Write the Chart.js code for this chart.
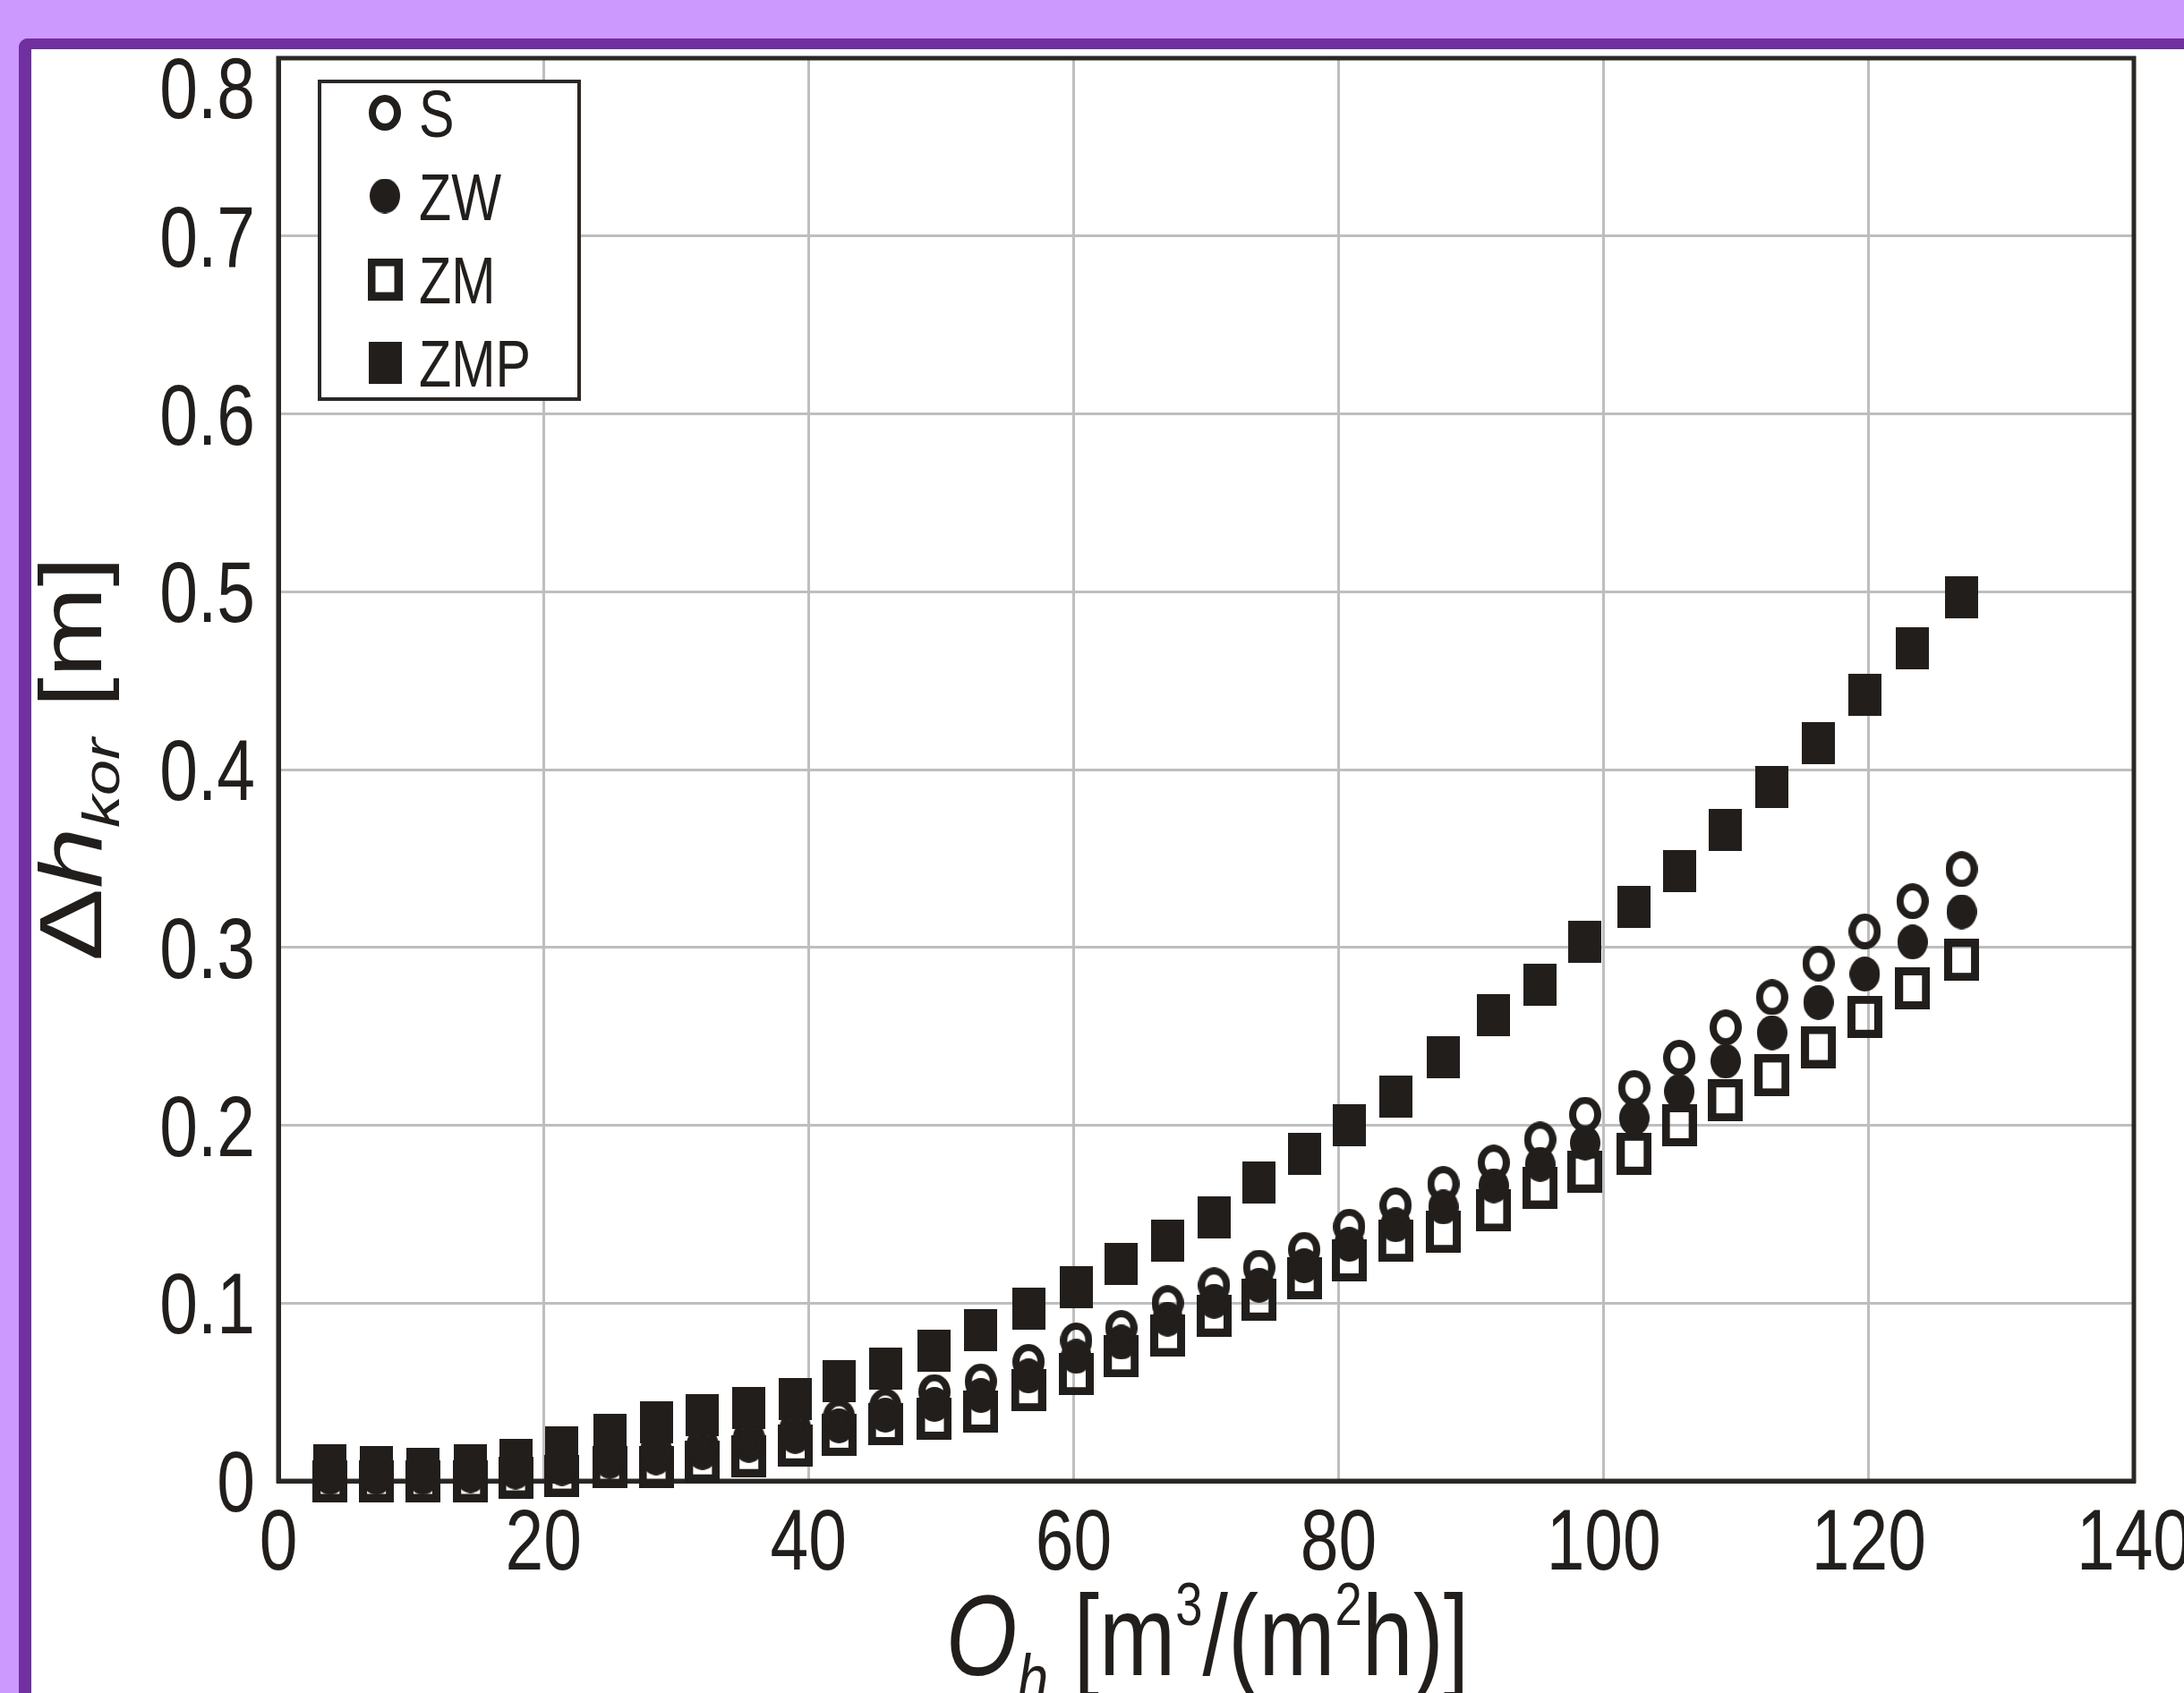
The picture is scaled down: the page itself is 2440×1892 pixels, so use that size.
<!DOCTYPE html>
<html>
<head>
<meta charset="utf-8">
<title>Δh_kor vs O_h</title>
<script src="https://cdn.jsdelivr.net/npm/chart.js@4.4.1/dist/chart.umd.min.js"></script>
<style>
  html, body { margin: 0; padding: 0; }
  body { width: 2440px; height: 1892px; background: #cc99ff; position: relative; overflow: hidden; }
  #frame { position: absolute; left: 21px; top: 43px; right: 0; bottom: 0; background: #fff;
           border-left: 14px solid #7030a0; border-top: 12px solid #7030a0; border-top-left-radius: 10px; }
  #c { position: absolute; left: 0; top: 0; }
</style>
</head>
<body>
<div id="frame"></div>
<canvas id="c" width="2440" height="1892"></canvas>
<script>
// hydraulic load O_h [m3/(m2h)]
const flow_rate = [3.9, 7.4, 10.9, 14.5, 17.9, 21.4, 25.0, 28.5, 32.0, 35.5, 39.0, 42.3,
  45.8, 49.5, 53.0, 56.6, 60.2, 63.6, 67.1, 70.6, 74.0, 77.4, 80.8, 84.3,
  87.9, 91.7, 95.2, 98.6, 102.3, 105.7, 109.2, 112.7, 116.2, 119.7, 123.3, 127.0];

// head loss dh_kor [m]
const loss_s = [0.003, 0.003, 0.004, 0.005, 0.007, 0.010, 0.014, 0.017, 0.020, 0.024, 0.029, 0.036,
  0.042, 0.050, 0.056, 0.067, 0.079, 0.086, 0.100, 0.110, 0.120, 0.130, 0.143, 0.155,
  0.167, 0.179, 0.192, 0.206, 0.221, 0.238, 0.255, 0.272, 0.291, 0.309, 0.326, 0.344];
const loss_zw = [0.002, 0.002, 0.002, 0.003, 0.005, 0.007, 0.011, 0.013, 0.016, 0.020, 0.025, 0.031,
  0.037, 0.043, 0.048, 0.059, 0.070, 0.078, 0.091, 0.101, 0.110, 0.121, 0.133, 0.144,
  0.154, 0.166, 0.178, 0.190, 0.204, 0.219, 0.236, 0.252, 0.269, 0.285, 0.303, 0.320];
const loss_zm = [0.000, 0.000, 0.000, 0.000, 0.002, 0.003, 0.008, 0.008, 0.011, 0.014, 0.020, 0.026,
  0.032, 0.035, 0.039, 0.051, 0.060, 0.070, 0.082, 0.093, 0.102, 0.114, 0.124, 0.135,
  0.140, 0.152, 0.165, 0.174, 0.184, 0.200, 0.214, 0.228, 0.244, 0.261, 0.277, 0.293];
const loss_zmp = [0.009, 0.008, 0.007, 0.009, 0.012, 0.019, 0.026, 0.033, 0.037, 0.041, 0.046, 0.056,
  0.063, 0.073, 0.085, 0.097, 0.109, 0.122, 0.135, 0.148, 0.168, 0.184, 0.200, 0.216,
  0.238, 0.262, 0.279, 0.303, 0.323, 0.343, 0.366, 0.390, 0.415, 0.442, 0.468, 0.497];

const series_names = ['S', 'ZW', 'ZM', 'ZMP'];
const x_ticks = [0, 20, 40, 60, 80, 100, 120, 140];
const y_ticks = [0, 0.1, 0.2, 0.3, 0.4, 0.5, 0.6, 0.7, 0.8];

const ink = '#221e1c';
const sans = '"Liberation Sans", Arial, sans-serif';
// the original lettering is Arial Narrow; no narrow face here, so squeeze Liberation Sans
const narrow_x = 0.8;

// scanned markers are a bit taller than wide, so draw them on small canvases
function make_mark(kind) {
    var c = document.createElement('canvas');
    var g;
    if (kind === 'open_circle') {
        c.width = 36; c.height = 40;
        g = c.getContext('2d');
        g.strokeStyle = ink; g.lineWidth = 8;
        g.beginPath(); g.ellipse(18, 20, 14, 16, 0, 0, Math.PI * 2); g.stroke();
    } else if (kind === 'circle') {
        c.width = 34; c.height = 39;
        g = c.getContext('2d');
        g.fillStyle = ink;
        g.beginPath(); g.ellipse(17, 19.5, 17, 19.5, 0, 0, Math.PI * 2); g.fill();
    } else if (kind === 'open_square') {
        c.width = 39; c.height = 47;
        g = c.getContext('2d');
        g.strokeStyle = ink; g.lineWidth = 9;
        g.strokeRect(4.5, 4.5, 30, 38);
    } else {
        c.width = 37; c.height = 47;
        g = c.getContext('2d');
        g.fillStyle = ink;
        g.fillRect(0, 0, 37, 47);
    }
    return c;
}

function to_points(ys) {
    return flow_rate.map(function (x, i) { return {x: x, y: ys[i]}; });
}

function squeeze_text(ctx, text, x, y, align, font) {
    ctx.save();
    ctx.translate(x, y);
    ctx.scale(narrow_x, 1);
    ctx.font = font;
    ctx.textAlign = align;
    ctx.textBaseline = 'alphabetic';
    ctx.fillText(text, 0, 0);
    ctx.restore();
}

// text made of pieces with sub/superscripts, centred on 0 in the current transform
function draw_parts(ctx, parts) {
    var total = 0;
    parts.forEach(function (p) { ctx.font = p.font; total += ctx.measureText(p.t).width; });
    var x = -total / 2;
    ctx.textAlign = 'left';
    ctx.textBaseline = 'alphabetic';
    parts.forEach(function (p) {
        ctx.font = p.font;
        ctx.fillText(p.t, x, p.dy || 0);
        x += ctx.measureText(p.t).width;
    });
}

function fmt_y(v) {
    return v === 0 ? '0' : v.toFixed(1);
}

const extras = {
    id: 'extras',
    beforeDatasetsDraw: function (chart) {
        var a = chart.chartArea, ctx = chart.ctx;
        ctx.save();
        ctx.strokeStyle = '#2b2725';
        ctx.lineWidth = 5;
        ctx.strokeRect(a.left, a.top, a.right - a.left, a.bottom - a.top);
        ctx.restore();
    },
    afterDraw: function (chart) {
        var ctx = chart.ctx;
        var xs = chart.scales.x, ys = chart.scales.y;
        ctx.save();
        ctx.fillStyle = ink;

        // tick labels
        xs.ticks.forEach(function (t) {
            squeeze_text(ctx, String(t.value), xs.getPixelForValue(t.value), ys.bottom + 99, 'center', '96px ' + sans);
        });
        ys.ticks.forEach(function (t) {
            var py = ys.getPixelForValue(t.value) + 34;
            // top label sits under the frame in the original
            if (Math.abs(t.value - 0.8) < 1e-9) py = ys.top + 67;
            squeeze_text(ctx, fmt_y(t.value), xs.left - 26, py, 'right', '96px ' + sans);
        });

        // legend box
        ctx.fillStyle = '#fff';
        ctx.fillRect(357, 91, 290, 355);
        ctx.strokeStyle = '#2b2725';
        ctx.lineWidth = 4;
        ctx.strokeRect(357, 91, 290, 355);
        ctx.fillStyle = ink;
        chart.data.datasets.forEach(function (ds, i) {
            var row = 126 + i * 93;
            var m = ds.pointStyle;
            ctx.drawImage(m, 430 - m.width / 2, row - m.height / 2);
            squeeze_text(ctx, ds.label, 468, row + 27, 'left', '74px ' + sans);
        });

        // x title
        ctx.save();
        ctx.translate(1349, 1872);
        ctx.scale(narrow_x, 1);
        draw_parts(ctx, [
            {t: 'O', font: 'italic 128px ' + sans},
            {t: 'h', font: 'italic 78px ' + sans, dy: 32},
            {t: ' [m', font: '128px ' + sans},
            {t: '3', font: '68px ' + sans, dy: -56},
            {t: '/(m', font: '128px ' + sans},
            {t: '2', font: '68px ' + sans, dy: -56},
            {t: 'h)]', font: '128px ' + sans}
        ]);
        ctx.restore();

        // y title, rotated; the squeeze now works across the letters
        ctx.save();
        ctx.translate(113, 848);
        ctx.rotate(-Math.PI / 2);
        ctx.scale(1, narrow_x);
        draw_parts(ctx, [
            {t: 'Δ', font: '122px ' + sans},
            {t: 'h', font: 'italic 122px ' + sans},
            {t: 'kor', font: 'italic 72px ' + sans, dy: 25},
            {t: ' [m]', font: '122px ' + sans}
        ]);
        ctx.restore();
        ctx.restore();
    }
};

const marks = [make_mark('open_circle'), make_mark('circle'), make_mark('open_square'), make_mark('square')];
const all_losses = [loss_s, loss_zw, loss_zm, loss_zmp];
const draw_order = [1, 2, 3, 0];

new Chart(document.getElementById('c'), {
    type: 'scatter',
    data: {
        datasets: series_names.map(function (name, i) {
            return {
                label: name,
                data: to_points(all_losses[i]),
                pointStyle: marks[i],
                pointRadius: 20,
                showLine: false,
                clip: false,
                order: draw_order[i]
            };
        })
    },
    options: {
        responsive: false,
        animation: false,
        devicePixelRatio: 1,
        layout: { padding: { top: 65, right: 56, bottom: 0, left: 0 } },
        plugins: { legend: { display: false }, tooltip: { enabled: false } },
        scales: {
            x: {
                type: 'linear',
                min: 0, max: 140,
                afterBuildTicks: function (s) { s.ticks = x_ticks.map(function (v) { return {value: v}; }); },
                afterFit: function (s) { s.height = 237; s.paddingLeft = 0; s.paddingRight = 0; },
                grid: { color: '#bebebe', lineWidth: 3, drawTicks: false },
                border: { color: '#2b2725', width: 5 },
                ticks: { display: false }
            },
            y: {
                type: 'linear',
                min: 0, max: 0.8,
                afterBuildTicks: function (s) { s.ticks = y_ticks.map(function (v) { return {value: v}; }); },
                afterFit: function (s) { s.width = 311; s.paddingTop = 0; s.paddingBottom = 0; },
                grid: { color: '#bebebe', lineWidth: 3, drawTicks: false },
                border: { color: '#2b2725', width: 5 },
                ticks: { display: false }
            }
        }
    },
    plugins: [extras]
});
</script>
</body>
</html>
